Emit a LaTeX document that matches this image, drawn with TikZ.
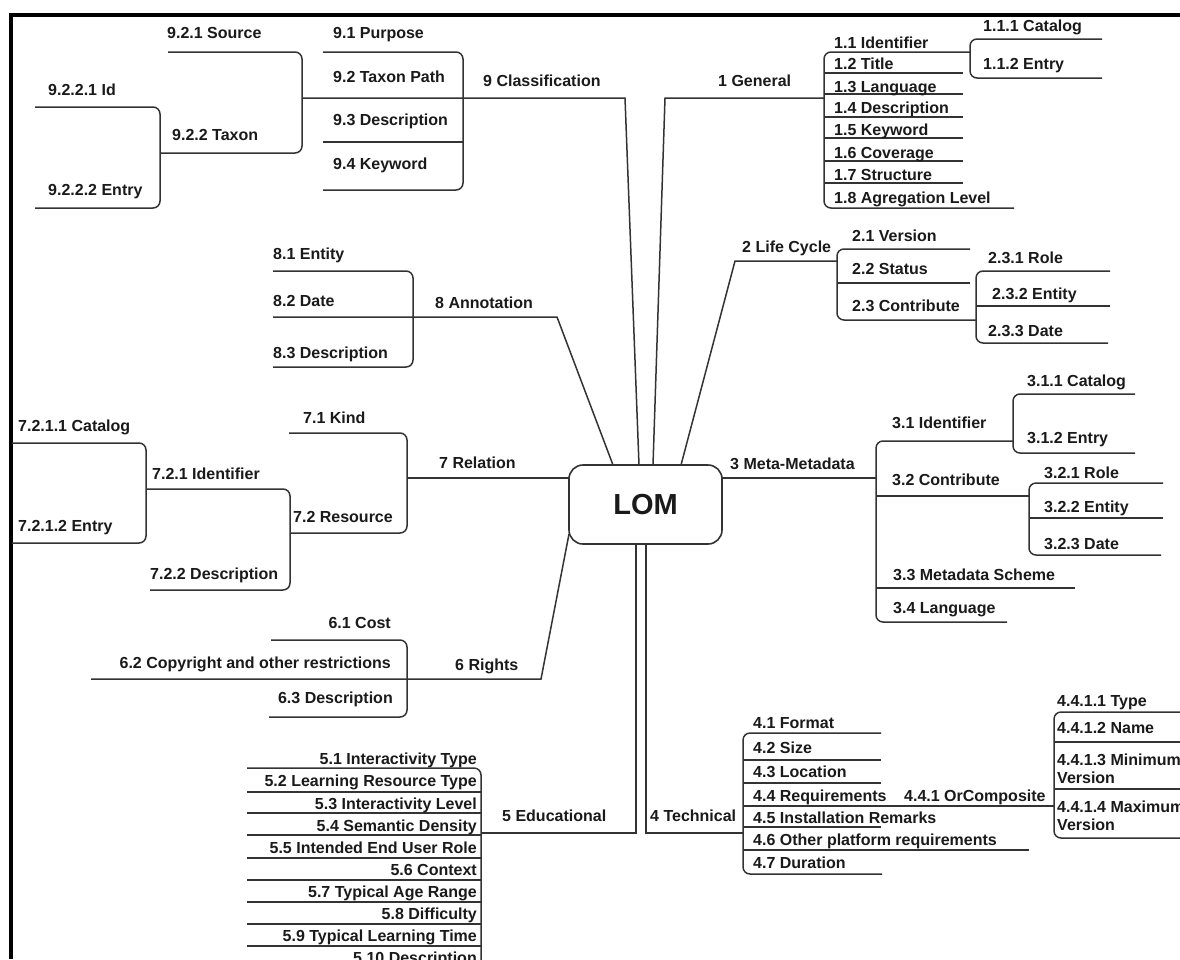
\documentclass[tikz,border=0pt]{standalone}
\usepackage{fontspec}
\setmainfont{Liberation Sans}
\definecolor{ink}{HTML}{333333}
\definecolor{txt}{HTML}{1A1A1A}
\begin{document}
\begin{tikzpicture}[x=1pt,y=-1pt,
  ln/.style={draw=ink, line width=1.5pt},
  brk/.style={ln, rounded corners=7pt},
  lbl/.style={font=\fontsize{16}{18}\selectfont\bfseries, text=txt, inner sep=0pt, anchor=base west, yshift=-6pt, align=left},
  rlbl/.style={lbl, anchor=base east, align=right}]
\useasboundingbox (0,0) rectangle (1180,959);
\clip (0,0) rectangle (1180,959);
\fill[white] (0,0) rectangle (1180,959);

% frame
\fill[black] (9,13) rectangle (1180,17);
\fill[black] (9,13) rectangle (13,959);

% root
\node[draw=ink, line width=1.6pt, rounded corners=14pt, minimum width=153pt,
      minimum height=79pt, inner sep=0pt, text=txt,
      font=\fontsize{29}{32}\selectfont\bfseries] (lom) at (645.5,504.5) {LOM};

% attachment points on the root
\coordinate (r8) at (613,465);
\coordinate (r9) at (639,465);
\coordinate (r1) at (653,465);
\coordinate (r2) at (681,465);
\coordinate (r3) at (722,478);
\coordinate (r7) at (569,478);
\coordinate (r6) at (569,534);
\coordinate (r5) at (636,544);
\coordinate (r4) at (646,544);

% ---------- 9 Classification ----------
\coordinate (k9) at (625,98);
\draw[ln] (r9) -- (k9) -- (302,98);
\draw[brk] (323,52) -- (463,52) -- (463,190) -- (323,190);
\draw[ln] (323,142) -- (463,142);
\draw[brk] (168,52) -- (302,52) -- (302,153) -- (160,153);
\draw[brk] (35,107) -- (160,107) -- (160,208) -- (35,208);
\node[lbl] (n9) at (483,80) {9 Classification};
\node[lbl] (n91) at (333,32) {9.1 Purpose};
\node[lbl] (n92) at (333,76) {9.2 Taxon Path};
\node[lbl] (n93) at (333,119) {9.3 Description};
\node[lbl] (n94) at (333,163) {9.4 Keyword};
\node[lbl] (n921) at (167,32) {9.2.1 Source};
\node[lbl] (n922) at (172,134) {9.2.2 Taxon};
\node[lbl] (n9221) at (48,89) {9.2.2.1 Id};
\node[lbl] (n9222) at (48,189) {9.2.2.2 Entry};

% ---------- 1 General ----------
\coordinate (k1) at (665,98);
\draw[ln] (r1) -- (k1) -- (824,98);
\draw[brk] (970,52) -- (824,52) -- (824,208) -- (1014,208);
\foreach \y in {73,94,117,138,161,183} \draw[ln] (824,\y) -- (963,\y);
\draw[brk] (1102,39) -- (970,39) -- (970,78) -- (1102,78);
\node[lbl] (n1) at (718,80) {1 General};
\node[lbl] (n11) at (834,42) {1.1 Identifier};
\node[lbl] (n12) at (834,63) {1.2 Title};
\node[lbl] (n13) at (834,86) {1.3 Language};
\node[lbl] (n14) at (834,107) {1.4 Description};
\node[lbl] (n15) at (834,129) {1.5 Keyword};
\node[lbl] (n16) at (834,152) {1.6 Coverage};
\node[lbl] (n17) at (834,174) {1.7 Structure};
\node[lbl] (n18) at (834,197) {1.8 Agregation Level};
\node[lbl] (n111) at (983,25) {1.1.1 Catalog};
\node[lbl] (n112) at (983,63) {1.1.2 Entry};

% ---------- 2 Life Cycle ----------
\coordinate (k2) at (735,261);
\draw[ln] (r2) -- (k2) -- (837,261);
\draw[brk] (970,249) -- (837,249) -- (837,320) -- (976,320);
\draw[ln] (837,283) -- (970,283);
\draw[brk] (1110,271) -- (976,271) -- (976,343) -- (1108,343);
\draw[ln] (976,306) -- (1110,306);
\node[lbl] (n2) at (742,246) {2 Life Cycle};
\node[lbl] (n21) at (852,235) {2.1 Version};
\node[lbl] (n22) at (852,268) {2.2 Status};
\node[lbl] (n23) at (852,305) {2.3 Contribute};
\node[lbl] (n231) at (988,257) {2.3.1 Role};
\node[lbl] (n232) at (992,293) {2.3.2 Entity};
\node[lbl] (n233) at (988,330) {2.3.3 Date};

% ---------- 3 Meta-Metadata ----------
\draw[ln] (r3) -- (876,478);
\draw[brk] (1013,441) -- (876,441) -- (876,622) -- (1007,622);
\draw[ln] (876,496) -- (1029,496);
\draw[ln] (876,588) -- (1075,588);
\draw[brk] (1135,394) -- (1013,394) -- (1013,453) -- (1135,453);
\draw[brk] (1163,483) -- (1029,483) -- (1029,555) -- (1161,555);
\draw[ln] (1029,518) -- (1163,518);
\node[lbl] (n3) at (730,463) {3 Meta-Metadata};
\node[lbl] (n31) at (892,422) {3.1 Identifier};
\node[lbl] (n32) at (892,479) {3.2 Contribute};
\node[lbl] (n33) at (893,574) {3.3 Metadata Scheme};
\node[lbl] (n34) at (893,607) {3.4 Language};
\node[lbl] (n311) at (1027,380) {3.1.1 Catalog};
\node[lbl] (n312) at (1027,437) {3.1.2 Entry};
\node[lbl] (n321) at (1044,472) {3.2.1 Role};
\node[lbl] (n322) at (1044,506) {3.2.2 Entity};
\node[lbl] (n323) at (1044,543) {3.2.3 Date};

% ---------- 4 Technical ----------
\coordinate (k4) at (646,833);
\draw[ln] (r4) -- (k4) -- (743,833);
\draw[brk] (881,733) -- (743,733) -- (743,874) -- (882,874);
\draw[ln] (743,760) -- (881,760);
\draw[ln] (743,783) -- (881,783);
\draw[ln] (743,806) -- (1054,806);
\draw[ln] (743,827) -- (881,827);
\draw[ln] (743,850) -- (1029,850);
\draw[brk] (1195,712) -- (1054,712) -- (1054,838) -- (1195,838);
\draw[ln] (1054,742) -- (1195,742);
\draw[ln] (1054,789) -- (1195,789);
\node[lbl] (n4) at (650,815) {4 Technical};
\node[lbl] (n41) at (753,722) {4.1 Format};
\node[lbl] (n42) at (753,747) {4.2 Size};
\node[lbl] (n43) at (753,771) {4.3 Location};
\node[lbl] (n44) at (753,795) {4.4 Requirements};
\node[lbl] (n45) at (753,817) {4.5 Installation Remarks};
\node[lbl] (n46) at (753,839) {4.6 Other platform requirements};
\node[lbl] (n47) at (753,862) {4.7 Duration};
\node[lbl] (n441) at (904,795) {4.4.1 OrComposite};
\node[lbl] (n4411) at (1057,700) {4.4.1.1 Type};
\node[lbl] (n4412) at (1057,727) {4.4.1.2 Name};
% two-line labels: the base anchor sits on the last line
\node[lbl] (n4413) at (1057,777) {4.4.1.3 Minimum\\Version};
\node[lbl] (n4414) at (1057,824) {4.4.1.4 Maximum\\Version};

% ---------- 5 Educational ----------
\coordinate (k5) at (636,833);
\draw[ln] (r5) -- (k5) -- (481,833);
\draw[brk] (247,768) -- (481,768) -- (481,990);
\foreach \y in {792,813,835,858,880,902,924,946,968} \draw[ln] (247,\y) -- (481,\y);
\node[lbl] (n5) at (502,815) {5 Educational};
\node[rlbl] (n51) at (477,758) {5.1 Interactivity Type};
\node[rlbl] (n52) at (477,780) {5.2 Learning Resource Type};
\node[rlbl] (n53) at (477,803) {5.3 Interactivity Level};
\node[rlbl] (n54) at (477,825) {5.4 Semantic Density};
\node[rlbl] (n55) at (477,847) {5.5 Intended End User Role};
\node[rlbl] (n56) at (477,869) {5.6 Context};
\node[rlbl] (n57) at (477,891) {5.7 Typical Age Range};
\node[rlbl] (n58) at (477,913) {5.8 Difficulty};
\node[rlbl] (n59) at (477,935) {5.9 Typical Learning Time};
\node[rlbl] (n510) at (477,957) {5.10 Description};

% ---------- 6 Rights ----------
\coordinate (k6) at (541,679);
\draw[ln] (r6) -- (k6) -- (91,679);
\draw[brk] (271,640) -- (407,640) -- (407,717) -- (269,717);
\node[lbl] (n6) at (455,664) {6 Rights};
\node[rlbl] (n61) at (391,622) {6.1 Cost};
\node[rlbl] (n62) at (391,662) {6.2 Copyright and other restrictions};
\node[rlbl] (n63) at (393,697) {6.3 Description};

% ---------- 7 Relation ----------
\draw[ln] (r7) -- (407,478);
\draw[brk] (289,433) -- (407,433) -- (407,533) -- (290,533);
\draw[brk] (146,489) -- (290,489) -- (290,590) -- (150,590);
\draw[brk] (12,443) -- (146,443) -- (146,543) -- (12,543);
\node[lbl] (n7) at (439,462) {7 Relation};
\node[lbl] (n71) at (303,417) {7.1 Kind};
\node[lbl] (n72) at (293,516) {7.2 Resource};
\node[lbl] (n721) at (152,473) {7.2.1 Identifier};
\node[lbl] (n722) at (150,573) {7.2.2 Description};
\node[lbl] (n7211) at (18,425) {7.2.1.1 Catalog};
\node[lbl] (n7212) at (18,525) {7.2.1.2 Entry};

% ---------- 8 Annotation ----------
\coordinate (k8) at (557,317);
\draw[ln] (r8) -- (k8) -- (273,317);
\draw[brk] (273,271) -- (413,271) -- (413,367) -- (273,367);
\node[lbl] (n8) at (435,302) {8 Annotation};
\node[lbl] (n81) at (273,253) {8.1 Entity};
\node[lbl] (n82) at (273,300) {8.2 Date};
\node[lbl] (n83) at (273,352) {8.3 Description};
\end{tikzpicture}
\end{document}
